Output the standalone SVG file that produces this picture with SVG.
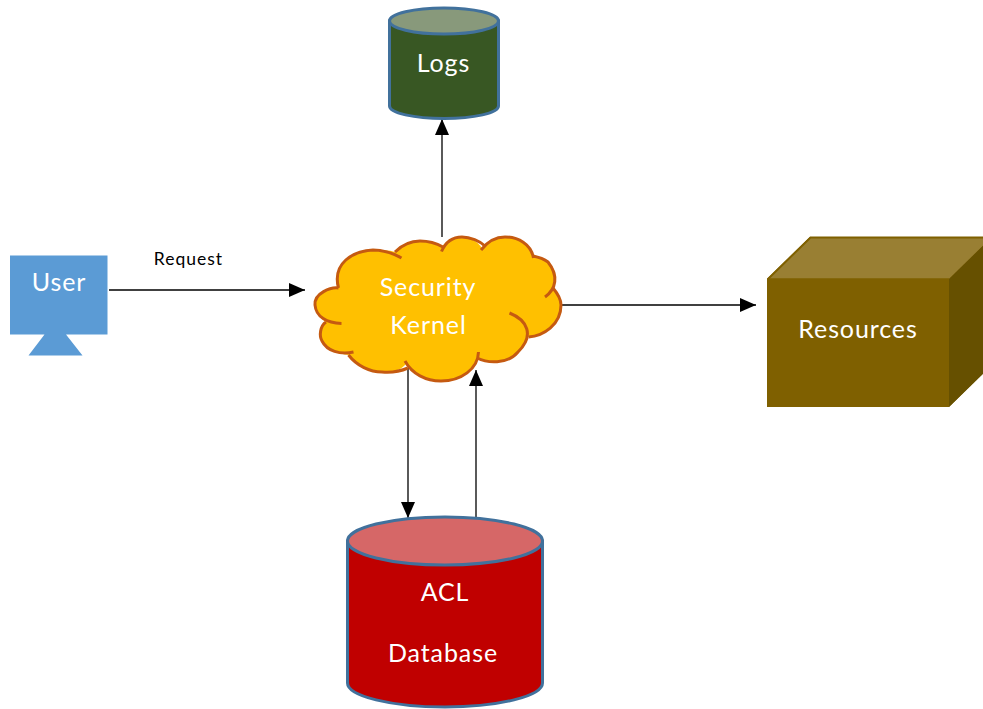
<svg xmlns="http://www.w3.org/2000/svg" width="983" height="709" viewBox="0 0 983 709">
<defs>
<style>
.t{font-family:"Lato","Open Sans",sans-serif;fill:#fff;font-size:25px;letter-spacing:.9px;text-anchor:middle}
.r{font-family:"Lato","Open Sans",sans-serif;fill:#000;font-size:17.500px;letter-spacing:1px;text-anchor:middle}
.c{fill:none;stroke:#000;stroke-width:1.300}
.cyl{stroke:#41719c;stroke-width:3}
.lobe{fill:none;stroke:#c55a11;stroke-width:3}
</style>
<marker id="a" markerUnits="userSpaceOnUse" markerWidth="16" markerHeight="14" refX="16" refY="7" orient="auto"><path d="M0 0L16 7L0 14Z" fill="#000"/></marker>
</defs>
<rect width="983" height="709" fill="#fff"/>
<g id="connectors">
<path class="c" d="M109 290H305" marker-end="url(#a)"/>
<path class="c" d="M562 305H756" marker-end="url(#a)"/>
<path class="c" d="M442 237V119" marker-end="url(#a)"/>
<path class="c" d="M408 368V518" marker-end="url(#a)"/>
<path class="c" d="M476 518V370" marker-end="url(#a)"/>
</g>
<g id="user">
<path d="M10 255.500H107.500V334.500H66L82.500 355.500H28.500L44.500 334.500H10Z" fill="#5b9bd5"/>
<text class="t" x="59" y="291">User</text>
</g>
<g id="logs">
<path class="cyl" d="M389.500 21V106C389.500 113 414 118.500 444 118.500S498.500 113 498.500 106V21Z" fill="#385723"/>
<ellipse class="cyl" cx="444" cy="21" rx="54.500" ry="13" fill="#88997b"/>
<text class="t" x="443.500" y="72">Logs</text>
</g>
<g id="kernel">
<path d="M338 287C331 288 314 293 315 305C316 313 320 318 326 322C320 326 319 336 322 341C327 351 340 354 349 355C357 366 370 372 382 372C392 373 401 370 406 364C416 376 428 381 441 381C458 381 472 372 477 358C487 363 507 365 518 352C524 347 527 342 528 337C543 336 561 325 561 305C561 299 558 294 553 288C558 280 556 268 548 262C544 259 538 257 533 256C530 244 518 237 505 237C497 237 490 240 482 248C477 241 470 237 462 237C453 237 446 241 442 247C436 243 427 241 420 241C410 241 401 246 395 252C389 250 381 250 373 250C353 251 337 263 336 280Z" fill="#ffc000"/>
<path class="lobe" d="M338.500 288C331 287 314 293 315 305C316 317 327 323 341.500 323.500"/>
<path class="lobe" d="M326 322C320 326 319 336 322 341C327 351 340 355 353.500 352"/>
<path class="lobe" d="M348.500 355C357 366 370 372 382 372C392 373 401 371 408 368"/>
<path class="lobe" d="M405 361C412 374 426 381 441 381C461 381 478 369 478.500 352"/>
<path class="lobe" d="M477 358C487 363 507 365 518 352C535 335 527 320 509.500 313"/>
<path class="lobe" d="M528.500 337C543 336 561 325 561 305C561 299 558 294 553 288"/>
<path class="lobe" d="M545 297C556 289 559 276 548 262C544 259 538 257 533 256"/>
<path class="lobe" d="M533.500 258C531 244 518 237 505 237C497 237 488 241 481 250"/>
<path class="lobe" d="M485 246C480 241 470 237 462 237C453 237 446 241 441.500 251.500"/>
<path class="lobe" d="M443 247C436 243 427 241 420 241C410 241 401 246 395 252"/>
<path class="lobe" d="M401.500 258C391 252 381 250 373 250C353 251 332 263 338.500 288"/>
<text class="t" x="428" y="296">Security</text>
<text class="t" x="428.500" y="334">Kernel</text>
</g>
<g id="resources">
<path d="M767 279L810 237H992V365L949 407H767Z" fill="#7f6000"/>
<path d="M767 279L810 237H992L949 279Z" fill="#997f33"/>
<path d="M768 279L810.500 237.500H992" fill="none" stroke="#7f6000" stroke-width="2"/>
<path d="M767 279H949" fill="none" stroke="#7f6000" stroke-width="1.500"/>
<path d="M949 279L992 237V365L949 407Z" fill="#665000"/>
<text class="t" x="858" y="338">Resources</text>
</g>
<g id="acl">
<path class="cyl" d="M347.500 541V683C347.500 696 391 707 445 707S542.500 696 542.500 683V541Z" fill="#c00000"/>
<ellipse class="cyl" cx="445" cy="541" rx="97.500" ry="24" fill="#d66767"/>
<text class="t" x="445" y="601">ACL</text>
<text class="t" x="443" y="662">Database</text>
</g>
<text class="r" x="188.500" y="265">Request</text>
</svg>
